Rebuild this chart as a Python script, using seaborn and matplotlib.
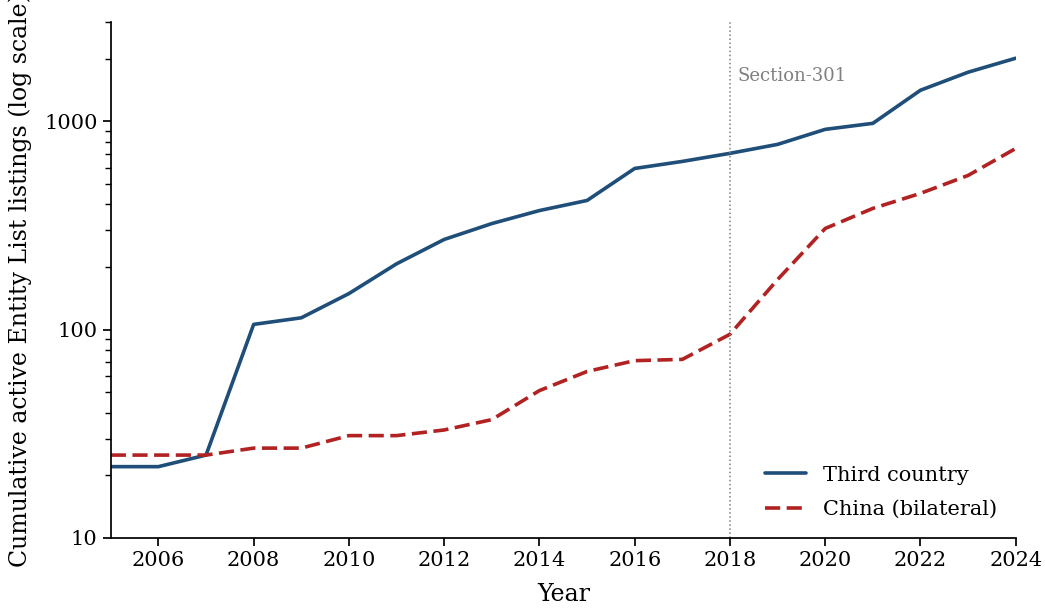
import matplotlib
matplotlib.use("Agg")
import matplotlib.pyplot as plt
import seaborn as sns
import pandas as pd

years = list(range(2005, 2025))
third_country = [22, 22, 25, 106, 114, 149, 207, 271, 323, 373, 417, 594, 642, 702, 775, 915, 978, 1410, 1721, 2009]
china_bilateral = [25, 25, 25, 27, 27, 31, 31, 33, 37, 51, 63, 71, 72, 95, 174, 306, 382, 451, 550, 741]
series_names = ["Third country", "China (bilateral)"]
x_ticks = list(range(2006, 2025, 2))

sns.set_theme(style="ticks")
plt.rcParams['font.family'] = ['DejaVu Serif']
plt.rcParams.update({
    "text.color": "black", "axes.labelcolor": "black", "axes.edgecolor": "black",
    "xtick.color": "black", "ytick.color": "black",
})

df = pd.DataFrame({
    "Year": years * 2,
    "Value": third_country + china_bilateral,
    "Series": [series_names[0]] * len(years) + [series_names[1]] * len(years),
})

fig = plt.figure(figsize=(10.45, 6.09), dpi=100)
ax = fig.add_axes([0.106, 0.1166, 0.866, 0.8474])

sns.lineplot(data=df, x="Year", y="Value", hue="Series", style="Series",
             palette={series_names[0]: "#1f4e79", series_names[1]: "#b22222"},
             dashes={series_names[0]: "", series_names[1]: (4.2, 1.8)},
             linewidth=2.6, ax=ax)

ax.set_yscale("log")
ax.set_ylim(10, 3000)
ax.set_xlim(2005, 2024)
ax.set_xticks(x_ticks)
ax.set_yticks([10, 100, 1000])
ax.set_yticklabels(["10", "100", "1000"])
ax.tick_params(labelsize=15)
ax.set_xlabel("Year", fontsize=17)
ax.set_ylabel("Cumulative active Entity List listings (log scale)", fontsize=17)
for s in ["top", "right"]:
    ax.spines[s].set_visible(False)

ax.axvline(2018, color="gray", linestyle=":", linewidth=1.1)
ax.text(2018.15, 1650, "Section-301", color="gray", fontsize=13, va="center")

leg = ax.legend(loc="lower right", frameon=False, fontsize=15, bbox_to_anchor=(1.0, 0.0),
                labelspacing=0.75)
ax.yaxis.set_label_coords(-0.087, 0.5)
ax.xaxis.set_label_coords(0.5, -0.088)

fig.savefig("out.png", dpi=100)
